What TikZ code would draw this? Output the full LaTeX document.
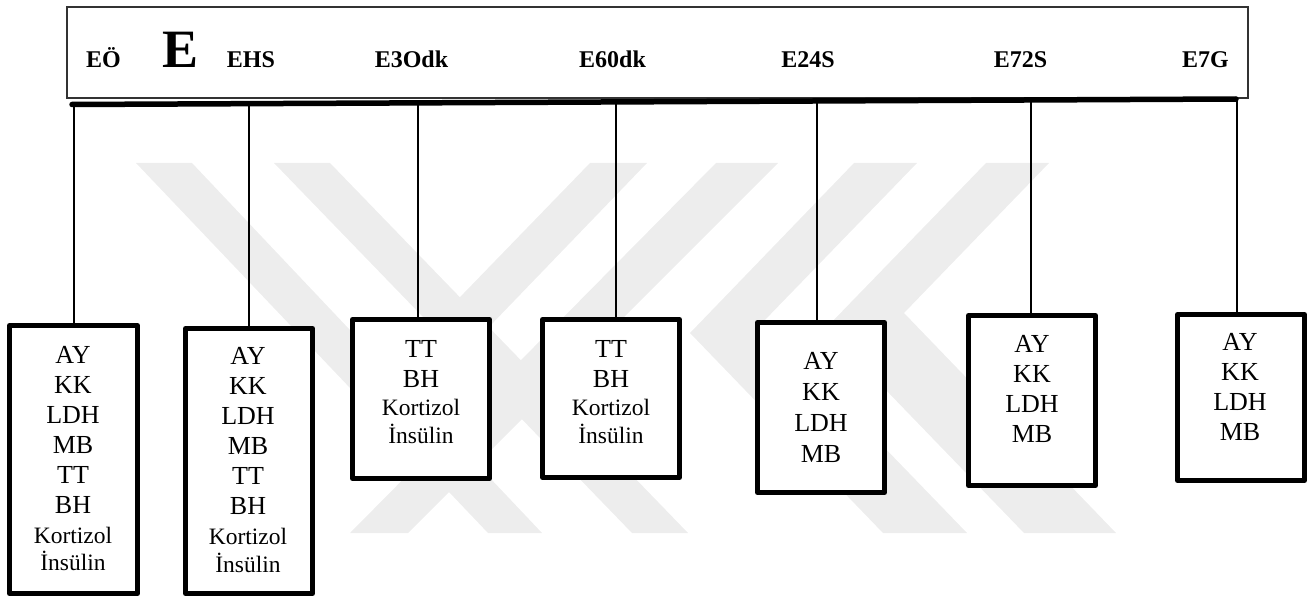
\documentclass[tikz,border=0pt]{standalone}
\usepackage{fontspec}
\setmainfont{Liberation Serif}
\begin{document}
\begin{tikzpicture}[x=1pt,y=-1pt,
  wm/.style={fill=black!7,draw=none},
  hdrbox/.style={draw=black!80,line width=1.6pt,inner sep=0,minimum width=1181pt,minimum height=91pt},
  hd/.style={font=\bfseries\fontsize{24}{28}\selectfont,anchor=base,inner sep=0},
  bigE/.style={font=\bfseries\fontsize{54}{60}\selectfont,anchor=base,inner sep=0},
  bx/.style={draw,line width=5pt,line join=round,fill=white,inner sep=0},
  conn/.style={line width=2pt},
  bar/.style={line width=5.5pt,line cap=round},
  bt/.style={align=center,anchor=north,inner sep=0,font=\fontsize{26}{30}\selectfont},
]
\newcommand{\smtxt}[1]{{\fontsize{23.5}{30}\selectfont #1}}
\useasboundingbox (0,0) rectangle (1312,599);
% watermark
\fill[wm] (136,163) -- (192,163) -- (542,533) -- (488,533) -- cycle;
\fill[wm] (274,163) -- (330,163) -- (688,533) -- (632,533) -- cycle;
\fill[wm] (716,163) -- (778,163) -- (408,533) -- (350,533) -- cycle;
\fill[wm] (590,163) -- (647,163) -- (461,356) -- (432,326) -- cycle;
\fill[wm] (854,163) -- (917,163) -- (763,322) -- (967,533) -- (883,533) -- (690,333) -- cycle;
\fill[wm] (986,163) -- (1049,163) -- (904,313) -- (1116,533) -- (1024,533) -- (826,328) -- cycle;
% header
\node[hdrbox] (head) at (657.5,52.5) {};
\node[hd] (h1) at (103.5,68) {EÖ};
\node[bigE] (h2) at (180.5,68) {E};
\node[hd] (h3) at (251,68) {EHS};
\node[hd] (h4) at (411.5,68) {E3Odk};
\node[hd] (h5) at (612.5,68) {E60dk};
\node[hd] (h6) at (808,68) {E24S};
\node[hd] (h7) at (1020.5,68) {E72S};
\node[hd] (h8) at (1205.5,68) {E7G};
% boxes
\node[bx,minimum width=128pt,minimum height=268pt] (b1) at (73.5,459.5) {};
\node[bx,minimum width=127pt,minimum height=265pt] (b2) at (249,461) {};
\node[bx,minimum width=137pt,minimum height=159pt] (b3) at (421,399) {};
\node[bx,minimum width=137pt,minimum height=158pt] (b4) at (611,398.5) {};
\node[bx,minimum width=127pt,minimum height=170pt] (b5) at (821,407.5) {};
\node[bx,minimum width=127pt,minimum height=170pt] (b6) at (1032,400.5) {};
\node[bx,minimum width=127pt,minimum height=166pt] (b7) at (1241,397.5) {};
% box texts
\node[bt] (t1) at (73,345.8) {AY\\KK\\LDH\\MB\\TT\\BH\\\smtxt{Kortizol}\\[-3pt]\smtxt{İnsülin}};
\node[bt] (t2) at (248,346.8) {AY\\KK\\LDH\\MB\\TT\\BH\\\smtxt{Kortizol}\\[-2pt]\smtxt{İnsülin}};
\node[bt] (t3) at (421,339.8) {TT\\BH\\[-2pt]\smtxt{Kortizol}\\[-2pt]\smtxt{İnsülin}};
\node[bt] (t4) at (611,339.8) {TT\\BH\\[-2pt]\smtxt{Kortizol}\\[-2pt]\smtxt{İnsülin}};
\node[bt] (t5) at (821,351.8) {AY\\[1pt]KK\\[1pt]LDH\\[1pt]MB};
\node[bt] (t6) at (1032,334.8) {AY\\KK\\LDH\\MB};
\node[bt] (t7) at (1240,332.8) {AY\\KK\\LDH\\MB};
% connectors
\coordinate (c1) at (74,104.5);
\coordinate (c2) at (249,103.7);
\coordinate (c3) at (418,102.9);
\coordinate (c4) at (616,102);
\coordinate (c5) at (817,101);
\coordinate (c6) at (1031,100);
\coordinate (c7) at (1237,99);
\foreach \i in {1,...,7} {\draw[conn] (c\i) -- (c\i |- b\i.north);}
\coordinate (L) at (72,104.5);
\coordinate (R) at (1236,99);
\draw[bar] (L) -- (R);
\end{tikzpicture}
\end{document}
